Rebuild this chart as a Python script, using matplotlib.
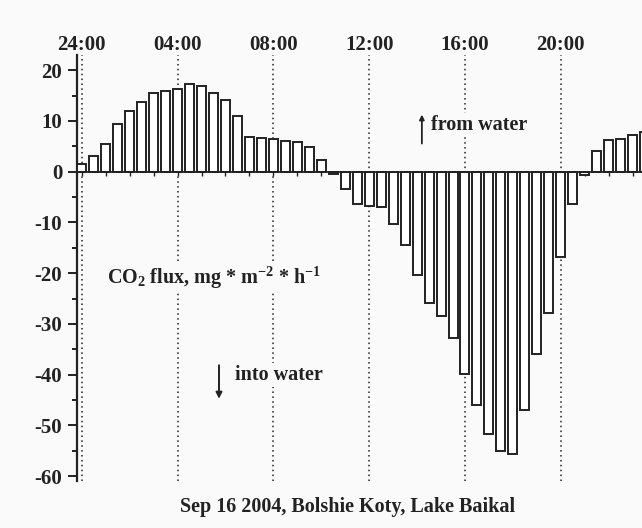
import numpy as np
import matplotlib
matplotlib.use("Agg")
import matplotlib.pyplot as plt
from matplotlib.ticker import MultipleLocator

# half-hourly CO2 flux over the lake surface, starting at midnight
times = np.arange(0, 24, 0.5)
flux = [1.5, 3.0, 5.4, 9.5, 12.0, 13.8, 15.5, 15.9, 16.3, 17.3, 16.9, 15.5,
        14.1, 10.9, 6.9, 6.7, 6.4, 6.1, 5.8, 4.8, 2.4, -0.4, -3.5, -6.4,
        -6.7, -7.0, -10.4, -14.4, -20.3, -25.8, -28.4, -32.7, -39.9, -45.9, -51.7, -55.1,
        -55.6, -46.9, -35.9, -27.8, -16.9, -6.4, -0.7, 4.0, 6.2, 6.5, 7.3, 7.8]

hour_marks = [0, 4, 8, 12, 16, 20]
hour_labels = ["24:00", "04:00", "08:00", "12:00", "16:00", "20:00"]
caption = "Sep 16 2004, Bolshie Koty, Lake Baikal"

bg = "#fafafa"
ink = "#222222"

plt.rcParams["font.family"] = "Liberation Serif"
plt.rcParams["font.weight"] = "bold"
plt.rcParams["axes.unicode_minus"] = False
plt.rcParams["mathtext.fontset"] = "custom"
plt.rcParams["mathtext.rm"] = "Liberation Serif:bold"
plt.rcParams["mathtext.it"] = "Liberation Serif:bold"
plt.rcParams["mathtext.bf"] = "Liberation Serif:bold"

fig = plt.figure(figsize=(6.42, 5.28), dpi=100, facecolor=bg)
ax = fig.add_axes([0.1195, 0.0896, 0.8805, 0.8062])
ax.set_facecolor(bg)

ax.bar(times, flux, width=0.375, color="white", edgecolor=ink, linewidth=1.4, zorder=3)

# dotted guides every four hours
for h in hour_marks:
    ax.axvline(h, color=ink, linestyle=(0, (1, 2.2)), linewidth=1.1, zorder=1)

ax.set_xlim(-0.21, 23.39)
ax.set_ylim(-60.9, 23)

for side in ("top", "right"):
    ax.spines[side].set_visible(False)
ax.spines["bottom"].set_position(("data", 0))
ax.spines["bottom"].set_zorder(4)
ax.spines["bottom"].set_linewidth(1.3)
ax.spines["left"].set_linewidth(1.6)
for sp in ax.spines.values():
    sp.set_color(ink)

ax.xaxis.set_major_locator(MultipleLocator(1))
ax.tick_params(axis="x", direction="out", length=3, width=1.0, colors=ink,
               labelbottom=False)
ax.yaxis.set_major_locator(MultipleLocator(10))
ax.yaxis.set_minor_locator(MultipleLocator(5))
ax.tick_params(axis="y", which="major", length=6.5, width=1.4, pad=4,
               labelsize=15, colors=ink)
ax.tick_params(axis="y", which="minor", length=3.8, width=1.4, colors=ink)

top = ax.secondary_xaxis("top")
top.set_xticks(hour_marks)
top.set_xticklabels(hour_labels)
top.tick_params(length=0, pad=0, labelsize=15, colors=ink)
top.spines["top"].set_visible(False)

box = dict(facecolor=bg, edgecolor="none", pad=1.5)
ax.text(5.52, -21.0, "CO$_2$ flux, mg * m$^{-2}$ * h$^{-1}$", fontsize=14.5,
        color=ink, ha="center", va="center", bbox=box, zorder=5)
ax.text(6.4, -40.1, "into water", fontsize=14.5, color=ink,
        ha="left", va="center", bbox=box, zorder=5)
ax.text(14.6, 9.3, "from water", fontsize=14.5, color=ink,
        ha="left", va="center", bbox=box, zorder=5)

ax.annotate("", xy=(5.73, -45.3), xytext=(5.73, -37.6),
            arrowprops=dict(arrowstyle="-|>", color=ink, lw=1.4,
                            mutation_scale=9), zorder=5)
ax.annotate("", xy=(14.2, 11.8), xytext=(14.2, 5.0),
            arrowprops=dict(arrowstyle="-|>", color=ink, lw=1.3,
                            mutation_scale=7), zorder=5)

fig.text(0.541, 0.04, caption, fontsize=14.5, color=ink, ha="center", va="center")

fig.savefig("out.png", dpi=100, facecolor=bg)
